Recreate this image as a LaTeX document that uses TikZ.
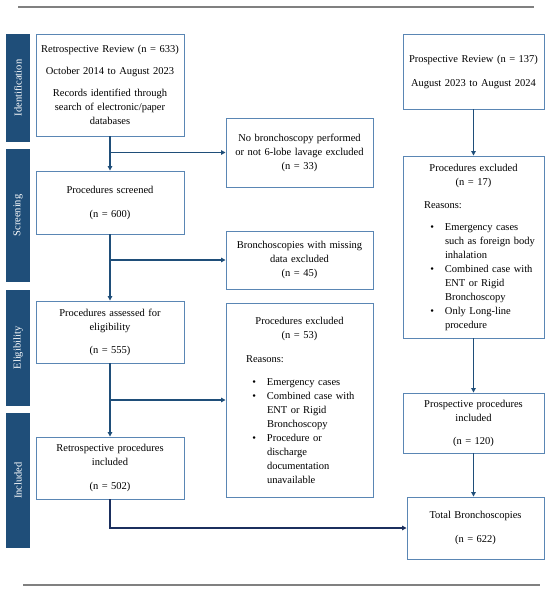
\documentclass[tikz,border=0pt]{standalone}
\usepackage{fontspec}
\setmainfont{Liberation Serif}
\usetikzlibrary{arrows.meta}
\definecolor{cnavy}{HTML}{1F4E79}
\definecolor{cedge}{HTML}{5A86B4}
\definecolor{cdark}{HTML}{1B2F5E}
\definecolor{crule}{HTML}{808080}
% one bullet line of a list of reasons: #1 = left indent of the text
\newcommand{\bitem}[2]{\par\leftskip=#1\noindent\llap{\textbullet\hspace{11pt}}#2\par}
\tikzset{
  every picture/.style={font=\fontsize{10.5}{14}\selectfont},
  box/.style={draw=cedge, line width=0.9pt, align=center, inner xsep=3pt, inner ysep=0pt},
  listbox/.style={box, align=left},
  phase/.style={fill=cnavy, text=white, rotate=90, minimum height=24pt, inner sep=0pt},
  arrow/.style={-{Triangle[length=4.5pt, width=4.5pt]}, draw=cnavy, line width=1.3pt},
  joinline/.style={arrow, draw=cdark},
  rule/.style={draw=crule, line width=1.5pt},
}
\begin{document}
\begin{tikzpicture}[x=1pt, y=-1pt]
  \useasboundingbox (0,0) rectangle (550,590);
  % rules above and below
  \draw[rule] (18,7) -- (534,7);
  \draw[rule] (23,585) -- (540,585);
  % stage bars on the left
  \node[phase, minimum width=108pt] (ident) at (18, 88) {Identification};
  \node[phase, minimum width=133pt] (screen) at (18, 215.5) {Screening};
  \node[phase, minimum width=116pt] (elig) at (18, 348) {Eligibility};
  \node[phase, minimum width=135pt] (incl) at (18, 480.5) {Included};
  % retrospective column
  \node[box, minimum width=148pt, minimum height=102pt, text width=142pt] (retro) at (110, 85)
    {Retrospective Review (n = 633)\\[8pt] October 2014 to August 2023\\[8pt]
     Records identified through\\ search of electronic/paper\\ databases};
  \node[box, minimum width=148pt, minimum height=63pt, text width=142pt] (scr) at (110, 202.5)
    {Procedures screened\\[10pt] (n = 600)};
  \node[box, minimum width=148pt, minimum height=62pt, text width=142pt] (assess) at (110, 332)
    {Procedures assessed for\\ eligibility\\[9pt] (n = 555)};
  \node[box, minimum width=148pt, minimum height=62pt, text width=142pt] (retinc) at (110, 468)
    {Retrospective procedures\\ included\\[10pt] (n = 502)};
  % exclusions
  \node[box, minimum width=147pt, minimum height=69pt, text width=141pt] (nobron) at (299.5, 152.5)
    {No bronchoscopy performed\\ or not 6-lobe lavage excluded\\ (n = 33)};
  \node[box, minimum width=147pt, minimum height=58pt, text width=141pt] (missing) at (299.5, 260)
    {Bronchoscopies with missing\\ data excluded\\ (n = 45)};
  \node[listbox, minimum width=147pt, minimum height=194pt, text width=127pt] (excl) at (299.5, 400)
    {\centering Procedures excluded\\ (n = 53)\par
     \vspace{10pt}\raggedright\leftskip=10pt Reasons:\par
     \vspace{9pt}
     \bitem{31pt}{Emergency cases}
     \bitem{31pt}{Combined case with\\ ENT or Rigid\\ Bronchoscopy}
     \bitem{31pt}{Procedure or\\ discharge\\ documentation\\ unavailable}};
  % prospective column
  \node[box, minimum width=141pt, minimum height=75pt, text width=135pt] (prosp) at (473.5, 71.5)
    {Prospective Review (n = 137)\\[10pt] August 2023 to August 2024};
  \node[listbox, minimum width=141pt, minimum height=182pt, text width=127pt] (pexcl) at (473.5, 247)
    {\centering Procedures excluded\\ (n = 17)\par
     \vspace{9pt}\raggedright\leftskip=14pt Reasons:\par
     \vspace{8pt}
     \bitem{35pt}{Emergency cases\\ such as foreign body\\ inhalation}
     \bitem{35pt}{Combined case with\\ ENT or Rigid\\ Bronchoscopy}
     \bitem{35pt}{Only Long-line\\ procedure}};
  \node[box, minimum width=141pt, minimum height=60pt, text width=135pt] (pinc) at (473.5, 423)
    {Prospective procedures\\ included\\[9pt] (n = 120)};
  \node[box, minimum width=137pt, minimum height=62pt, text width=131pt] (total) at (475.5, 528)
    {Total Bronchoscopies\\[10pt] (n = 622)};
  % flow
  \draw[arrow] (retro) -- (scr);
  \draw[arrow] (retro.south |- nobron.west) -- (nobron.west);
  \draw[arrow] (scr) -- (assess);
  \draw[arrow] (scr.south |- missing.west) -- (missing.west);
  \draw[arrow] (assess) -- (retinc);
  \draw[arrow] (assess.south |- excl.west) -- (excl.west);
  \draw[joinline] (retinc.south) |- (total.west);
  \draw[arrow] (prosp) -- (pexcl);
  \draw[arrow] (pexcl) -- (pinc);
  \draw[arrow] (pinc.south) -- (pinc.south |- total.north);
\end{tikzpicture}
\end{document}
